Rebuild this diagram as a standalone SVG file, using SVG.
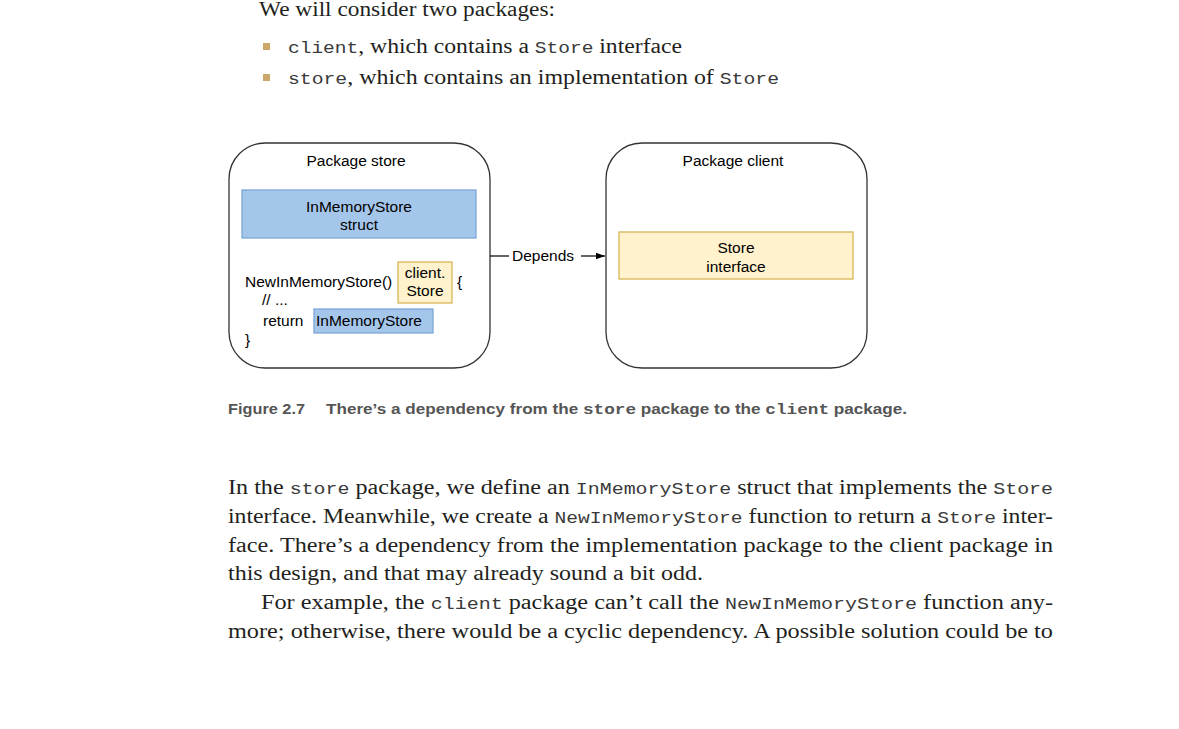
<svg xmlns="http://www.w3.org/2000/svg" width="1179" height="729" viewBox="0 0 1179 729">
<style>
.body{font-family:"Liberation Serif",serif;font-size:20px;fill:#231f20}
.mono{font-family:"Liberation Mono",monospace;font-size:16.5px;fill:#3a3a3a}
.cap{font-family:"Liberation Sans",sans-serif;font-size:14.5px;font-weight:bold;fill:#555}
.capm{font-family:"Liberation Mono",monospace;font-size:15px;font-weight:bold;fill:#555}
.d{font-family:"Liberation Sans",Arial,sans-serif;font-size:15.5px;fill:#000}
.pkg{fill:#fff;stroke:#333;stroke-width:1.3}
.blue{fill:#a4c6ea;stroke:#7ea6d8;stroke-width:1.3}
.yel{fill:#fff2cc;stroke:#d6b656;stroke-width:1.3}
.bul{fill:#c9a86a}
</style>
<defs>
<marker id="arr" markerWidth="10" markerHeight="8" refX="9" refY="4" orient="auto" markerUnits="userSpaceOnUse">
<path d="M0,0.8 L9,4 L0,7.2 Z" fill="#000"/>
</marker>
</defs>

<g id="intro">
<text class="body" x="259" y="16" textLength="296" lengthAdjust="spacingAndGlyphs">We will consider two packages:</text>
<rect class="bul" x="263" y="43" width="7" height="7"/>
<text class="body" x="288" y="53" textLength="394" lengthAdjust="spacingAndGlyphs"><tspan class="mono">client</tspan>, which contains a <tspan class="mono">Store</tspan> interface</text>
<rect class="bul" x="263" y="74" width="7" height="7"/>
<text class="body" x="288" y="84" textLength="491" lengthAdjust="spacingAndGlyphs"><tspan class="mono">store</tspan>, which contains an implementation of <tspan class="mono">Store</tspan></text>
</g>

<g id="package-store">
<rect class="pkg" x="229" y="143" width="261" height="225" rx="36" ry="36"/>
<text class="d" x="356" y="166" text-anchor="middle">Package store</text>
</g>
<g id="inmemorystore-struct">
<rect class="blue" x="242" y="190" width="234" height="48"/>
<text class="d" x="359" y="212" text-anchor="middle">InMemoryStore</text>
<text class="d" x="359" y="230" text-anchor="middle">struct</text>
</g>
<g id="constructor-code">
<text class="d" x="245" y="287">NewInMemoryStore()</text>
<text class="d" x="457" y="287">{</text>
<text class="d" x="262" y="305">// ...</text>
<text class="d" x="263" y="326">return</text>
<text class="d" x="245" y="345">}</text>
</g>
<g id="client-store-type">
<rect class="yel" x="398" y="262" width="54" height="41"/>
<text class="d" x="425" y="278" text-anchor="middle">client.</text>
<text class="d" x="425" y="296" text-anchor="middle">Store</text>
</g>
<g id="return-inmemorystore">
<rect class="blue" x="314" y="309" width="119" height="24"/>
<text class="d" x="316" y="326">InMemoryStore</text>
</g>

<g id="package-client">
<rect class="pkg" x="606" y="143" width="261" height="225" rx="36" ry="36"/>
<text class="d" x="733" y="166" text-anchor="middle">Package client</text>
</g>
<g id="store-interface">
<rect class="yel" x="619" y="232" width="234" height="47"/>
<text class="d" x="736" y="253" text-anchor="middle">Store</text>
<text class="d" x="736" y="272" text-anchor="middle">interface</text>
</g>

<g id="connectors">
<line x1="490" y1="256" x2="509" y2="256" stroke="#000" stroke-width="1.2"/>
<text class="d" x="512" y="261">Depends</text>
<line x1="581" y1="256" x2="605" y2="256" stroke="#000" stroke-width="1.2" marker-end="url(#arr)"/>
</g>

<g id="caption">
<text class="cap" x="228" y="414" textLength="77" lengthAdjust="spacingAndGlyphs">Figure 2.7</text>
<text class="cap" x="326" y="414" textLength="581" lengthAdjust="spacingAndGlyphs">There’s a dependency from the <tspan class="capm">store</tspan> package to the <tspan class="capm">client</tspan> package.</text>
</g>

<g id="body">
<text class="body" x="228" y="494" textLength="825" lengthAdjust="spacingAndGlyphs">In the <tspan class="mono">store</tspan> package, we define an <tspan class="mono">InMemoryStore</tspan> struct that implements the <tspan class="mono">Store</tspan></text>
<text class="body" x="228" y="523" textLength="825" lengthAdjust="spacingAndGlyphs">interface. Meanwhile, we create a <tspan class="mono">NewInMemoryStore</tspan> function to return a <tspan class="mono">Store</tspan> inter-</text>
<text class="body" x="228" y="552" textLength="825" lengthAdjust="spacingAndGlyphs">face. There’s a dependency from the implementation package to the client package in</text>
<text class="body" x="228" y="580" textLength="475" lengthAdjust="spacingAndGlyphs">this design, and that may already sound a bit odd.</text>
<text class="body" x="261" y="609" textLength="792" lengthAdjust="spacingAndGlyphs">For example, the <tspan class="mono">client</tspan> package can’t call the <tspan class="mono">NewInMemoryStore</tspan> function any-</text>
<text class="body" x="228" y="638" textLength="825" lengthAdjust="spacingAndGlyphs">more; otherwise, there would be a cyclic dependency. A possible solution could be to</text>
</g>
</svg>
